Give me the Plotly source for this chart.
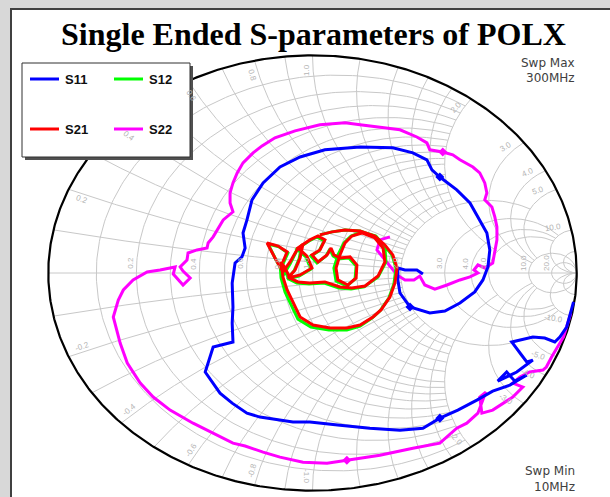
import numpy as np
import plotly.graph_objects as go

# ---------------------------------------------------------------
# Reflection coefficients (real, imag), sweep 10 MHz -> 300 MHz
# ---------------------------------------------------------------
s11_re = [0.988, 0.972, 0.962, 0.936, 0.917, 0.879, 0.834, 0.754, 0.811, 0.834,
          0.773, 0.701, 0.735, 0.766, 0.811, 0.747, 0.682, 0.622, 0.550, 0.482,
          0.418, 0.331, 0.217, 0.104, -0.010, -0.074, -0.199, -0.248, -0.304, -0.350,
          -0.406, -0.376, -0.301, -0.304, -0.301, -0.304, -0.293, -0.267, -0.255, -0.263,
          -0.248, -0.229, -0.187, -0.123, -0.047, 0.047, 0.180, 0.304, 0.380, 0.433,
          0.452, 0.482, 0.546, 0.596, 0.626, 0.660, 0.671, 0.664, 0.645, 0.614,
          0.558, 0.501, 0.444, 0.369, 0.331, 0.323, 0.323, 0.350, 0.395, 0.418]
s11_im = [-0.133, -0.207, -0.248, -0.294, -0.317, -0.299, -0.294, -0.317, -0.409, -0.400,
          -0.455, -0.497, -0.455, -0.497, -0.469, -0.515, -0.543, -0.584, -0.630, -0.667,
          -0.713, -0.722, -0.713, -0.699, -0.685, -0.685, -0.662, -0.644, -0.598, -0.552,
          -0.455, -0.340, -0.317, -0.230, -0.156, -0.046, 0.046, 0.074, 0.115, 0.184,
          0.244, 0.336, 0.414, 0.487, 0.533, 0.566, 0.579, 0.575, 0.552, 0.520,
          0.474, 0.441, 0.382, 0.322, 0.258, 0.184, 0.106, 0.028, -0.032, -0.087,
          -0.138, -0.175, -0.184, -0.156, -0.092, -0.032, 0.023, 0.014, 0.014, -0.005]

s12_re = [-0.112, -0.093, -0.127, -0.168, -0.138, -0.108, -0.085, -0.062, -0.040, -0.051,
          -0.070, -0.096, -0.051, -0.006, -0.025, -0.059, -0.013, 0.017, 0.044, 0.025,
          -0.006, 0.017, 0.051, 0.066, 0.078, 0.096, 0.138, 0.165, 0.161, 0.130,
          0.089, 0.081, 0.096, 0.119, 0.146, 0.187, 0.240, 0.274, 0.278, 0.248,
          0.195, 0.146, 0.100, 0.044, -0.013, -0.059, -0.089, -0.108, -0.123, -0.119,
          -0.104, -0.085, -0.055, -0.006, 0.062, 0.130, 0.180, 0.225, 0.255, 0.289,
          0.308, 0.316, 0.301, 0.270, 0.233, 0.180, 0.123, 0.074, 0.028]
s12_im = [0.041, 0.092, 0.120, 0.133, 0.060, -0.005, 0.041, 0.097, 0.129, 0.064,
          0.009, -0.028, -0.014, 0.018, 0.074, 0.110, 0.147, 0.166, 0.147, 0.101,
          0.078, 0.046, 0.078, 0.110, 0.078, 0.064, 0.069, 0.032, -0.028, -0.060,
          -0.037, 0.023, 0.083, 0.138, 0.170, 0.189, 0.170, 0.120, 0.051, -0.018,
          -0.064, -0.074, -0.069, -0.046, -0.051, -0.046, -0.028, 0.018, 0.046, -0.023,
          -0.087, -0.133, -0.212, -0.248, -0.262, -0.262, -0.244, -0.207, -0.175, -0.115,
          -0.051, 0.023, 0.083, 0.129, 0.170, 0.193, 0.198, 0.189, 0.175]

s21_re = [-0.112, -0.096, -0.130, -0.172, -0.142, -0.112, -0.085, -0.059, -0.036, -0.047,
          -0.066, -0.093, -0.047, -0.002, -0.021, -0.055, -0.010, 0.021, 0.047, 0.028,
          -0.002, 0.021, 0.055, 0.070, 0.081, 0.104, 0.142, 0.168, 0.165, 0.134,
          0.096, 0.089, 0.104, 0.123, 0.149, 0.187, 0.236, 0.267, 0.274, 0.248,
          0.199, 0.149, 0.104, 0.047, -0.010, -0.055, -0.085, -0.104, -0.119, -0.112,
          -0.096, -0.078, -0.047, 0.002, 0.066, 0.130, 0.180, 0.229, 0.259, 0.293,
          0.312, 0.320, 0.304, 0.274, 0.236, 0.180, 0.123, 0.074, 0.028]
s21_im = [0.051, 0.097, 0.124, 0.138, 0.069, 0.005, 0.051, 0.106, 0.133, 0.069,
          0.014, -0.023, -0.009, 0.023, 0.078, 0.115, 0.152, 0.170, 0.152, 0.106,
          0.083, 0.051, 0.083, 0.115, 0.083, 0.069, 0.074, 0.037, -0.023, -0.055,
          -0.032, 0.023, 0.083, 0.138, 0.170, 0.184, 0.161, 0.115, 0.051, -0.014,
          -0.060, -0.069, -0.064, -0.041, -0.046, -0.041, -0.023, 0.023, 0.051, -0.018,
          -0.078, -0.124, -0.202, -0.239, -0.253, -0.253, -0.239, -0.202, -0.170, -0.110,
          -0.046, 0.023, 0.083, 0.129, 0.170, 0.193, 0.198, 0.189, 0.175]

s22_re = [0.978, 0.950, 0.905, 0.885, 0.872, 0.822, 0.785, 0.758, 0.796, 0.758,
          0.682, 0.641, 0.633, 0.656, 0.626, 0.584, 0.546, 0.482, 0.380, 0.255,
          0.130, 0.055, -0.036, -0.123, -0.187, -0.255, -0.301, -0.376, -0.452, -0.539,
          -0.603, -0.652, -0.701, -0.728, -0.747, -0.754, -0.735, -0.716, -0.679, -0.626,
          -0.577, -0.520, -0.527, -0.490, -0.463, -0.490, -0.501, -0.475, -0.471, -0.437,
          -0.399, -0.395, -0.376, -0.361, -0.338, -0.301, -0.312, -0.312, -0.301, -0.285,
          -0.263, -0.225, -0.191, -0.142, -0.066, 0.028, 0.123, 0.180, 0.255, 0.331,
          0.395, 0.433, 0.444, 0.493, 0.531, 0.558, 0.607, 0.633, 0.652, 0.660,
          0.652, 0.679, 0.690, 0.698, 0.698, 0.690, 0.682, 0.652, 0.626, 0.611,
          0.626, 0.596, 0.558, 0.509, 0.463, 0.425, 0.406, 0.384, 0.350, 0.320,
          0.282, 0.244, 0.255, 0.293]
s22_im = [-0.184, -0.294, -0.386, -0.432, -0.446, -0.455, -0.478, -0.506, -0.524, -0.570,
          -0.630, -0.644, -0.570, -0.547, -0.644, -0.690, -0.713, -0.782, -0.805, -0.837,
          -0.860, -0.874, -0.869, -0.846, -0.823, -0.795, -0.782, -0.736, -0.690, -0.630,
          -0.570, -0.506, -0.414, -0.322, -0.230, -0.202, -0.124, -0.078, -0.032, 0.005,
          0.014, 0.028, -0.005, -0.055, -0.023, 0.009, 0.028, 0.060, 0.092, 0.106,
          0.115, 0.138, 0.166, 0.198, 0.244, 0.281, 0.322, 0.368, 0.414, 0.460,
          0.506, 0.552, 0.584, 0.621, 0.653, 0.681, 0.690, 0.681, 0.671, 0.658,
          0.625, 0.598, 0.566, 0.556, 0.543, 0.520, 0.487, 0.460, 0.414, 0.368,
          0.336, 0.303, 0.258, 0.212, 0.152, 0.092, 0.046, 0.023, 0.037, 0.014,
          0.000, -0.018, -0.032, -0.055, -0.074, -0.055, -0.014, -0.032, -0.032, -0.009,
          0.046, 0.106, 0.152, 0.166]

# sweep points carrying a direction marker on each trace
s11_marks = [19, 51, 63]
s22_marks = [20, 73]

series_names = ["S11", "S12", "S21", "S22"]
series_colors = ["#0000ff", "#00ff00", "#ff0000", "#ff00ff"]

# Smith chart grid values
res_grid = [0.1, 0.2, 0.3, 0.4, 0.5, 0.6, 0.7, 0.8, 0.9, 1.0,
            1.2, 1.4, 1.6, 1.8, 2.0, 3.0, 4.0, 5.0, 10.0, 20.0]
react_grid = [0.1, 0.2, 0.3, 0.4, 0.5, 0.6, 0.7, 0.8, 0.9, 1.0,
              1.2, 1.4, 1.6, 1.8, 2.0, 3.0, 4.0, 5.0, 10.0, 20.0]
res_labels = [0.2, 0.4, 0.6, 0.8, 1.0, 2.0, 3.0, 4.0, 5.0, 10.0, 20.0]
react_labels = [0.2, 0.4, 0.6, 0.8, 1.0, 2.0, 3.0, 4.0, 5.0, 10.0]

title_text = "Single Ended S-parameters of POLX"
sweep_max = ["Swp Max", "300MHz"]
sweep_min = ["Swp Min", "10MHz"]

# ---------------------------------------------------------------
W, H = 610, 497
ML, MR, MT, MB = 43, 28, 51, 2
XR = [-1.02, 1.02]
YR = [-1.02, 1.02]
GRID = "#c8c8c8"


def paper(px, py):
    return (px - ML) / (W - ML - MR), (H - MB - py) / (H - MT - MB)


def gamma(z):
    return (z - 1) / (z + 1)


def extent(v):
    # how far each grid line runs before it stops
    if v < 1.0:
        return 2.0
    if v <= 2.0:
        return 2.0 if v < 2.0 else 5.0
    if v <= 5.0:
        return 10.0
    return np.inf


def lim_angle(m):
    return np.pi / 2 - 1e-4 if np.isinf(m) else np.arctan(m)


gx, gy = [], []
for r in res_grid:
    a = lim_angle(extent(r))
    t = np.linspace(-a, a, 240)
    g = gamma(r + 1j * np.tan(t))
    gx += list(g.real) + [None]
    gy += list(g.imag) + [None]
for x in react_grid:
    a = lim_angle(extent(x))
    s = np.linspace(0, a, 240)
    for sgn in (1, -1):
        g = gamma(np.tan(s) + 1j * sgn * x)
        gx += list(g.real) + [None]
        gy += list(g.imag) + [None]
gx += [-1, 1, None]
gy += [0, 0, None]

fig = go.Figure()
fig.add_trace(go.Scatter(x=gx, y=gy, mode="lines", line=dict(color=GRID, width=1),
                         hoverinfo="skip", showlegend=False))
th = np.linspace(0, 2 * np.pi, 721)
fig.add_trace(go.Scatter(x=np.cos(th), y=np.sin(th), mode="lines",
                         line=dict(color="black", width=2.2), hoverinfo="skip",
                         showlegend=False))

data = {
    "S11": (s11_re, s11_im),
    "S12": (s12_re, s12_im),
    "S21": (s21_re, s21_im),
    "S22": (s22_re, s22_im),
}
marks = {"S11": s11_marks, "S22": s22_marks}
for name in ["S22", "S11", "S12", "S21"]:
    re_, im_ = data[name]
    col = series_colors[series_names.index(name)]
    fig.add_trace(go.Scatter(x=re_, y=im_, mode="lines", name=name,
                             line=dict(color=col, width=3), showlegend=False))
    if name in marks:
        idx = marks[name]
        mx = [re_[i] for i in idx]
        my = [im_[i] for i in idx]
        fig.add_trace(go.Scatter(x=mx, y=my, mode="markers", showlegend=False,
                                 hoverinfo="skip",
                                 marker=dict(symbol="diamond", size=7, color=col)))

ann = []
shapes = []
lab_font = dict(family="Liberation Sans, Arial", size=8, color="#b4b4b4")

# resistance labels along the real axis
for r in res_labels:
    g = gamma(r)
    ann.append(dict(x=g - 0.022, y=0.045, xref="x", yref="y", text=f"{r:.1f}",
                    showarrow=False, textangle=-90, font=lab_font))
# reactance labels just inside the rim
for x in react_labels:
    for sgn in (1, -1):
        g = gamma(1j * sgn * x)
        th0 = np.angle(g)
        rad = 0.935
        ang = np.degrees(np.arctan2(-np.sin(th0) * 217.5, np.cos(th0) * 264.5))
        if ang > 90:
            ang -= 180
        if ang < -90:
            ang += 180
        txt = f"{x:.1f}" if sgn > 0 else f"-{x:.1f}"
        ann.append(dict(x=rad * np.cos(th0 + 0.025 * sgn), y=rad * np.sin(th0 + 0.025 * sgn),
                        xref="x", yref="y", text=txt, showarrow=False,
                        textangle=ang, font=lab_font))


def rect(x0, y0, x1, y1, **kw):
    a0 = paper(x0, y1)
    a1 = paper(x1, y0)
    d = dict(type="rect", xref="paper", yref="paper", x0=a0[0], y0=a0[1],
             x1=a1[0], y1=a1[1], layer="above")
    d.update(kw)
    return d


# window frame
shapes.append(rect(0, 0, W, 8, fillcolor="#d8d8d8", line=dict(width=0)))
shapes.append(rect(0, 0, 10, H, fillcolor="#d8d8d8", line=dict(width=0)))
shapes.append(rect(10, 8, W, 10, fillcolor="#404040", line=dict(width=0)))
shapes.append(rect(10, 8, 12, H, fillcolor="#404040", line=dict(width=0)))

# legend box with shadow
shapes.append(rect(25, 66, 193, 160, fillcolor="#505050", line=dict(width=0)))
shapes.append(rect(22, 63, 190, 157, fillcolor="white", line=dict(color="#303030", width=1)))
leg_pos = {"S11": (30, 79), "S12": (114, 79), "S21": (30, 129), "S22": (114, 129)}
for name, (lx, ly) in leg_pos.items():
    col = series_colors[series_names.index(name)]
    p0 = paper(lx, ly)
    p1 = paper(lx + 29, ly)
    shapes.append(dict(type="line", xref="paper", yref="paper", x0=p0[0], y0=p0[1],
                       x1=p1[0], y1=p1[1], line=dict(color=col, width=3), layer="above"))
    pt = paper(lx + 33, ly)
    ann.append(dict(x=pt[0], y=pt[1], xref="paper", yref="paper", text=f"<b>{name}</b>",
                    showarrow=False, xanchor="left", yanchor="middle",
                    font=dict(family="Liberation Sans, Arial", size=13, color="#101010")))

# title
tp = paper(313.5, 34)
ann.append(dict(x=tp[0], y=tp[1], xref="paper", yref="paper", text=f"<b>{title_text}</b>",
                showarrow=False, xanchor="center", yanchor="middle",
                font=dict(family="Liberation Serif, Times New Roman", size=32, color="black")))

sw_font = dict(family="DejaVu Sans, Verdana", size=12, color="#404040")
for txt, py in zip(sweep_max, [63, 78]):
    p = paper(577, py)
    ann.append(dict(x=p[0], y=p[1], xref="paper", yref="paper", text=txt, showarrow=False,
                    xanchor="right", yanchor="middle", font=sw_font))
for txt, py in zip(sweep_min, [471, 487]):
    p = paper(577, py)
    ann.append(dict(x=p[0], y=p[1], xref="paper", yref="paper", text=txt, showarrow=False,
                    xanchor="right", yanchor="middle", font=sw_font))

fig.update_layout(
    width=W, height=H, autosize=False,
    margin=dict(l=ML, r=MR, t=MT, b=MB, pad=0),
    paper_bgcolor="white", plot_bgcolor="white",
    xaxis=dict(range=XR, visible=False, fixedrange=True),
    yaxis=dict(range=YR, visible=False, fixedrange=True),
    annotations=ann, shapes=shapes, showlegend=False,
)
fig.write_html("out.html")
